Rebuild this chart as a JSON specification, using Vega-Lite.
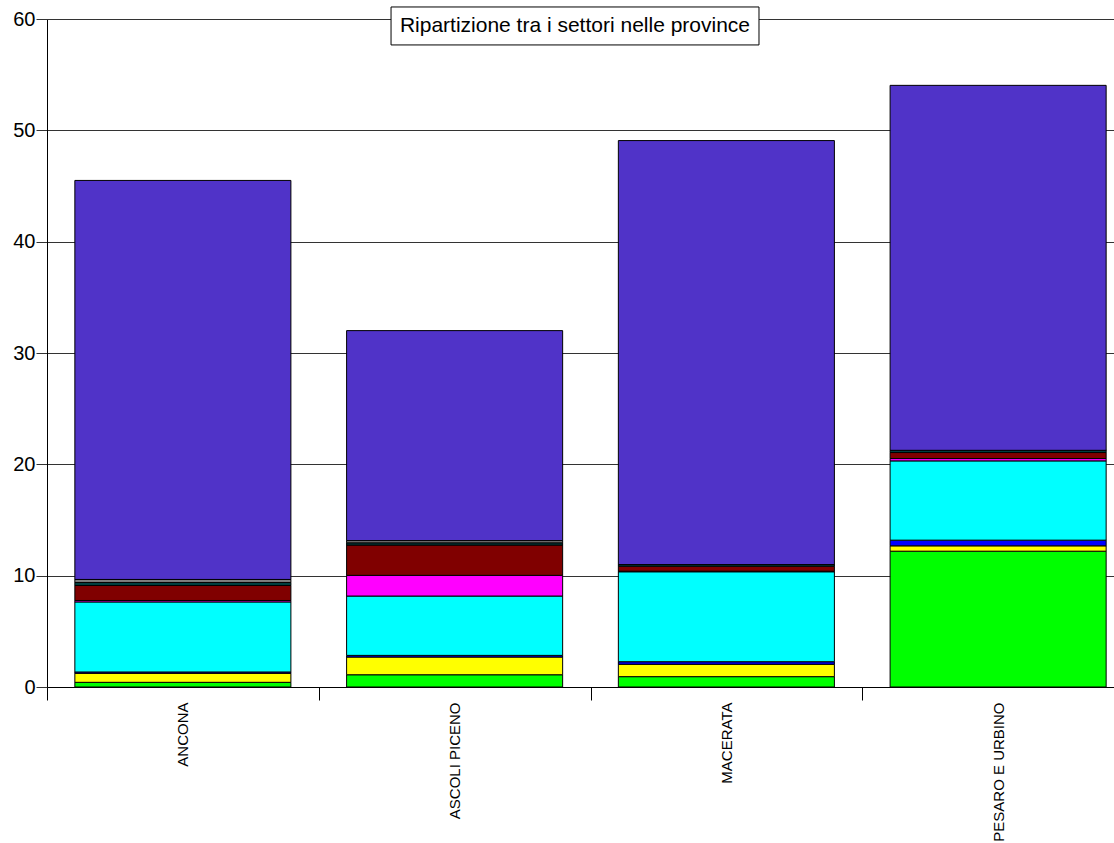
{
  "$schema": "https://vega.github.io/schema/vega-lite/v6.json",
  "width": 1087,
  "height": 668,
  "autosize": {"type": "none"},
  "padding": {"left": 47, "top": 19, "right": 0, "bottom": 156},
  "background": "white",
  "config": {"view": {"stroke": null}, "font": "Liberation Sans"},
  "resolve": {"scale": {"x": "independent"}},
  "layer": [
    {
      "data": {
        "values": [
          {"provincia": "ANCONA", "settore": "S1", "ord": 1, "valore": 0.42},
          {"provincia": "ANCONA", "settore": "S2", "ord": 2, "valore": 0.81},
          {"provincia": "ANCONA", "settore": "S3", "ord": 3, "valore": 0.12},
          {"provincia": "ANCONA", "settore": "S4", "ord": 4, "valore": 6.29},
          {"provincia": "ANCONA", "settore": "S5", "ord": 5, "valore": 0.13},
          {"provincia": "ANCONA", "settore": "S6", "ord": 6, "valore": 1.35},
          {"provincia": "ANCONA", "settore": "S7", "ord": 7, "valore": 0.27},
          {"provincia": "ANCONA", "settore": "S8", "ord": 8, "valore": 0.27},
          {"provincia": "ANCONA", "settore": "S9", "ord": 9, "valore": 35.84},
          {"provincia": "ASCOLI PICENO", "settore": "S1", "ord": 1, "valore": 1.1},
          {"provincia": "ASCOLI PICENO", "settore": "S2", "ord": 2, "valore": 1.59},
          {"provincia": "ASCOLI PICENO", "settore": "S3", "ord": 3, "valore": 0.15},
          {"provincia": "ASCOLI PICENO", "settore": "S4", "ord": 4, "valore": 5.33},
          {"provincia": "ASCOLI PICENO", "settore": "S5", "ord": 5, "valore": 1.86},
          {"provincia": "ASCOLI PICENO", "settore": "S6", "ord": 6, "valore": 2.72},
          {"provincia": "ASCOLI PICENO", "settore": "S7", "ord": 7, "valore": 0.2},
          {"provincia": "ASCOLI PICENO", "settore": "S8", "ord": 8, "valore": 0.2},
          {"provincia": "ASCOLI PICENO", "settore": "S9", "ord": 9, "valore": 18.86},
          {"provincia": "MACERATA", "settore": "S1", "ord": 1, "valore": 0.93},
          {"provincia": "MACERATA", "settore": "S2", "ord": 2, "valore": 1.11},
          {"provincia": "MACERATA", "settore": "S3", "ord": 3, "valore": 0.23},
          {"provincia": "MACERATA", "settore": "S4", "ord": 4, "valore": 8.08},
          {"provincia": "MACERATA", "settore": "S5", "ord": 5, "valore": 0.05},
          {"provincia": "MACERATA", "settore": "S6", "ord": 6, "valore": 0.45},
          {"provincia": "MACERATA", "settore": "S7", "ord": 7, "valore": 0.15},
          {"provincia": "MACERATA", "settore": "S8", "ord": 8, "valore": 0.0},
          {"provincia": "MACERATA", "settore": "S9", "ord": 9, "valore": 38.08},
          {"provincia": "PESARO E URBINO", "settore": "S1", "ord": 1, "valore": 12.2},
          {"provincia": "PESARO E URBINO", "settore": "S2", "ord": 2, "valore": 0.48},
          {"provincia": "PESARO E URBINO", "settore": "S3", "ord": 3, "valore": 0.51},
          {"provincia": "PESARO E URBINO", "settore": "S4", "ord": 4, "valore": 7.12},
          {"provincia": "PESARO E URBINO", "settore": "S5", "ord": 5, "valore": 0.21},
          {"provincia": "PESARO E URBINO", "settore": "S6", "ord": 6, "valore": 0.54},
          {"provincia": "PESARO E URBINO", "settore": "S7", "ord": 7, "valore": 0.2},
          {"provincia": "PESARO E URBINO", "settore": "S8", "ord": 8, "valore": 0.0},
          {"provincia": "PESARO E URBINO", "settore": "S9", "ord": 9, "valore": 32.78}
        ]
      },
      "mark": {"type": "bar", "width": {"band": 0.795}, "stroke": "black", "strokeWidth": 1},
      "encoding": {
        "x": {
          "field": "provincia", "type": "nominal", "sort": null,
          "scale": {"paddingInner": 0, "paddingOuter": 0},
          "axis": {
            "title": null, "tickBand": "extent", "tickSize": 13, "tickColor": "black",
            "domainColor": "black", "labelAngle": -90, "labelAlign": "right", "labelBaseline": "middle",
            "labelFontSize": 15, "labelPadding": 2, "labelColor": "black", "grid": false
          }
        },
        "y": {
          "field": "valore", "type": "quantitative", "stack": "zero",
          "scale": {"domain": [0, 60], "nice": false},
          "axis": {
            "title": null, "values": [0, 10, 20, 30, 40, 50, 60], "tickSize": 11, "tickColor": "#333333",
            "grid": true, "gridColor": "#333333", "gridOpacity": 1, "domainColor": "black",
            "labelFontSize": 20, "labelPadding": 1, "labelColor": "black"
          }
        },
        "color": {
          "field": "settore", "type": "nominal",
          "scale": {
            "domain": ["S1", "S2", "S3", "S4", "S5", "S6", "S7", "S8", "S9"],
            "range": ["#00ff00", "#ffff00", "#0000ff", "#00ffff", "#ff00ff", "#800000", "#004040", "#808080", "#5033c8"]
          },
          "legend": null
        },
        "order": {"field": "ord", "type": "quantitative"}
      }
    },
    {
      "data": {"values": [{"x1": 0.3165, "x2": 0.655, "y1": 57.67, "y2": 61.08}]},
      "mark": {"type": "rect", "fill": "white", "stroke": "black", "strokeWidth": 1},
      "encoding": {
        "x": {"field": "x1", "type": "quantitative", "scale": {"domain": [0, 1]}, "axis": null},
        "x2": {"field": "x2"},
        "y": {"field": "y1", "type": "quantitative", "scale": {"domain": [0, 60], "nice": false}},
        "y2": {"field": "y2"}
      }
    },
    {
      "data": {"values": [{"x": 0.4857, "y": 59.37, "testo": "Ripartizione tra i settori nelle province"}]},
      "mark": {"type": "text", "fontSize": 21, "color": "black", "align": "center", "baseline": "middle", "font": "Liberation Sans"},
      "encoding": {
        "x": {"field": "x", "type": "quantitative", "scale": {"domain": [0, 1]}, "axis": null},
        "y": {"field": "y", "type": "quantitative", "scale": {"domain": [0, 60], "nice": false}},
        "text": {"field": "testo"}
      }
    }
  ]
}
